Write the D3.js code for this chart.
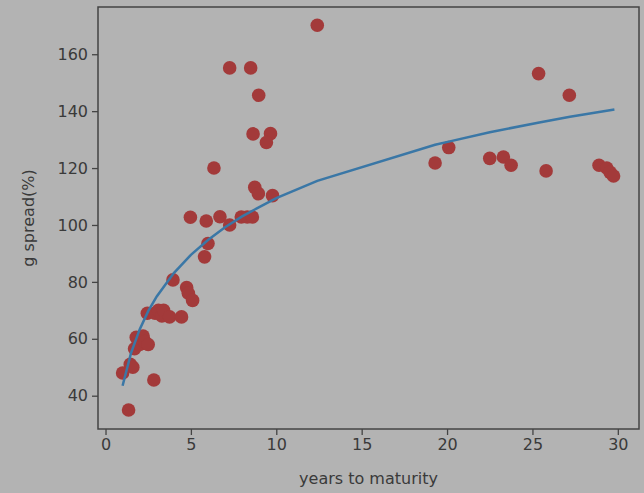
<!DOCTYPE html>
<html>
<head>
<meta charset="utf-8">
<script src="https://cdn.jsdelivr.net/npm/d3@7"></script>
<style>
  body { margin: 0; background: #b3b3b3; }
  svg { display: block; font-family: "DejaVu Sans", sans-serif; }
</style>
</head>
<body>
<svg id="chart" width="644" height="493"></svg>
<script>
// scatter: years to maturity vs g spread
const years = [1.0, 1.35, 1.45, 1.6, 1.7, 1.8, 2.0, 2.1, 2.2, 2.3, 2.5, 2.45, 2.83, 2.9, 3.1, 3.3, 3.4, 3.75, 4.45,
  3.95, 4.75, 4.85, 5.1, 4.97, 5.9, 5.8, 6.0, 6.35, 6.7, 7.27, 7.27, 7.95, 8.3, 8.6, 8.5, 8.97, 8.64, 9.66, 9.42,
  8.74, 8.95, 9.78, 12.4, 19.3, 20.1, 22.5, 23.3, 23.75, 25.36, 25.8, 27.16, 28.9, 29.35, 29.55, 29.75];
const spread = [48, 35, 51, 50, 56.5, 60.5, 58, 60, 61, 59, 58, 69, 45.5, 69, 70, 68, 70, 67.7, 67.7,
  80.7, 78, 76, 73.5, 102.7, 101.4, 88.8, 93.5, 120, 102.9, 100, 155.2, 102.8, 102.8, 102.8, 155.2, 145.6, 132, 132.1, 129,
  113.2, 111, 110.3, 170.2, 121.8, 127.2, 123.4, 123.9, 121, 153.2, 119, 145.6, 121, 120, 118.5, 117.2];

// fitted curve
const fitYears = [1.0, 1.5, 2, 2.5, 3, 4, 5, 6, 7, 8, 9, 10, 12.4, 19.3, 20.1, 22.5, 25.4, 27.2, 29.8];
const fitSpread = [43.5, 55.1, 63.3, 69.7, 74.9, 83.1, 89.5, 94.7, 99.2, 103.0, 106.3, 109.4, 115.5, 128.2, 129.3, 132.6, 136.0, 138.0, 140.6];

const xTicks = [0, 5, 10, 15, 20, 25, 30];
const yTicks = [40, 60, 80, 100, 120, 140, 160];

const svg = d3.select("#chart");
const plotLeft = 98, plotRight = 639, plotTop = 7, plotBottom = 429;
const textColor = "#3a3a3a";

const x = d3.scaleLinear().domain([-0.44, 31.24]).range([plotLeft, plotRight]);
const y = d3.scaleLinear().domain([28.3, 176.6]).range([plotBottom, plotTop]);

const xAxis = svg.append("g")
    .attr("transform", "translate(0," + plotBottom + ")")
    .call(d3.axisBottom(x).tickValues(xTicks).tickSize(6).tickPadding(4).tickFormat(d3.format("d")));
const yAxis = svg.append("g")
    .attr("transform", "translate(" + plotLeft + ",0)")
    .call(d3.axisLeft(y).tickValues(yTicks).tickSize(6).tickPadding(4).tickFormat(d3.format("d")));

[xAxis, yAxis].forEach(g => {
    g.select(".domain").remove();
    g.selectAll("line").attr("stroke", "#444").attr("stroke-width", 1.3);
    g.selectAll("text").attr("fill", textColor).style("font-size", "16px")
        .style("font-family", "DejaVu Sans, sans-serif");
});

// frame
svg.append("rect")
    .attr("x", plotLeft).attr("y", plotTop)
    .attr("width", plotRight - plotLeft).attr("height", plotBottom - plotTop)
    .attr("fill", "none").attr("stroke", "#444").attr("stroke-width", 1.5);

svg.append("g").selectAll("circle")
    .data(years.map((d, i) => [d, spread[i]]))
    .join("circle")
    .attr("cx", d => x(d[0]))
    .attr("cy", d => y(d[1]))
    .attr("r", 6.8)
    .attr("fill", "#a33a3a");

const line = d3.line().x(d => x(d[0])).y(d => y(d[1]));
svg.append("path")
    .datum(fitYears.map((d, i) => [d, fitSpread[i]]))
    .attr("d", line)
    .attr("fill", "none")
    .attr("stroke", "#3a77a6")
    .attr("stroke-width", 2.5);

svg.append("text")
    .attr("x", (plotLeft + plotRight) / 2).attr("y", 484)
    .attr("text-anchor", "middle")
    .attr("fill", textColor).style("font-size", "16px")
    .text("years to maturity");

svg.append("text")
    .attr("transform", "translate(34," + ((plotTop + plotBottom) / 2) + ") rotate(-90)")
    .attr("text-anchor", "middle")
    .attr("fill", textColor).style("font-size", "16px")
    .text("g spread(%)");
</script>
</body>
</html>
